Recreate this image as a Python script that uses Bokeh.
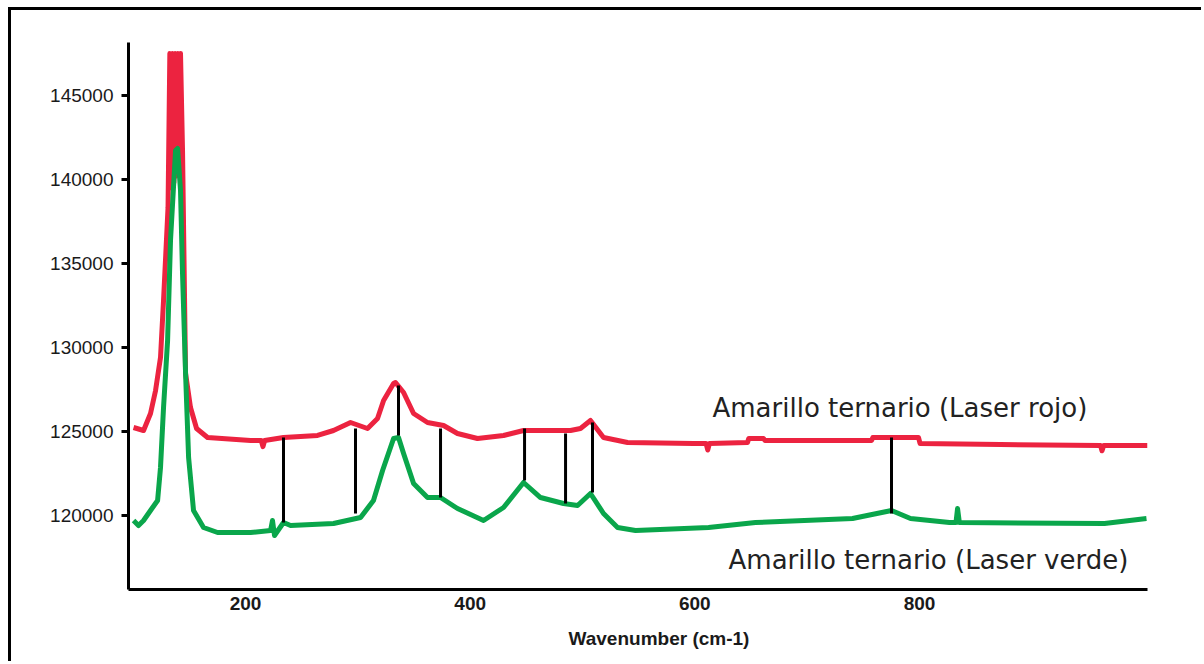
from bokeh.plotting import figure
from bokeh.models import Range1d, FixedTicker, Title, NumeralTickFormatter
from bokeh.core.properties import value
from bokeh.embed import file_html
from bokeh.resources import INLINE

# Red laser spectrum (wavenumber, intensity)
red_wn = [100.3, 109.2, 115.4, 119.9, 124.3, 127.0, 131.0, 132.6, 133.8, 135.0, 136.2, 137.4,
          138.6, 139.8, 141.0, 142.1, 143.9, 146.6,
          151.0, 156.4, 166.2, 204.5, 214.0, 215.5, 217.0, 233.8, 264.1, 278.3, 293.5, 308.6,
          317.5, 322.9, 331.8, 333.5, 340.7, 349.6, 362.0, 376.3, 388.7, 406.5, 429.7, 447.5,
          471.5, 489.3, 498.2, 507.1, 518.7, 540.1, 598.8, 610.0, 611.5, 613.0, 646.9, 648.0,
          661.1, 662.5, 757.3, 758.5, 799.1, 800.5, 872.1, 961.2, 962.5, 964.0, 1003.0]
red_int = [125238, 125059, 126071, 127440, 129404, 132797, 138332, 147500, 139500, 147500, 139800, 147500,
           140200, 147500, 140500, 147500, 141725, 128452,
           126428, 125178, 124643, 124464, 124464, 124100, 124464, 124643, 124762, 125059, 125535, 125178,
           125773, 126845, 127857, 127916, 127321, 126071, 125535, 125357, 124881, 124583, 124762, 125059,
           125059, 125059, 125178, 125654, 124643, 124345, 124286, 124286, 123900, 124286, 124345, 124583,
           124583, 124464, 124464, 124643, 124643, 124286, 124226, 124166, 123850, 124166, 124166]

# Green laser spectrum (wavenumber, intensity)
green_wn = [100.3, 104.7, 109.2, 115.4, 121.7, 124.3, 127.0, 130.6, 133.2, 137.7, 139.5, 142.1,
            143.9, 146.6, 149.3, 153.7, 162.6, 175.1, 204.5, 222.3, 224.0, 225.8, 233.8, 240.1,
            278.3, 302.4, 313.9, 322.0, 331.8, 336.2, 340.7, 349.6, 362.0, 373.6, 388.7, 411.9,
            429.7, 447.5, 462.6, 483.1, 495.6, 507.1, 518.7, 531.2, 547.2, 612.2, 654.0, 740.4,
            775.1, 792.0, 826.7, 832.5, 833.9, 835.5, 964.7, 1002.1]
green_int = [119702, 119405, 119702, 120298, 120893, 122857, 126428, 130416, 136368, 141725, 141844, 139344,
             134404, 128452, 123452, 120298, 119286, 118988, 118988, 119107, 119702, 118810, 119583, 119405,
             119524, 119881, 120893, 122678, 124583, 124643, 123690, 121905, 121071, 121071, 120417, 119702,
             120476, 121964, 121071, 120714, 120595, 121309, 120119, 119286, 119107, 119286, 119583, 119821,
             120298, 119821, 119583, 119583, 120417, 119583, 119524, 119821]

# Peak marker lines (wavenumber, top, bottom)
marker_wn = [233.8, 297.9, 336.2, 373.6, 448.4, 484.9, 508.9, 775.1]
marker_top = [124643, 125178, 127738, 125178, 125178, 124881, 125535, 124643]
marker_bottom = [119583, 120119, 124762, 121071, 122083, 120714, 121369, 120119]

y_ticks = [120000, 125000, 130000, 135000, 140000, 145000]
x_ticks = [200, 400, 600, 800]

label_texts = ["Amarillo ternario (Laser rojo)", "Amarillo ternario (Laser verde)"]
label_wn = [615.7, 630.0]
label_int = [126369, 117322]

p = figure(width=1193, height=654,
           x_range=Range1d(95.8, 1003.0), y_range=Range1d(115596, 148150),
           output_backend="svg", toolbar_location=None,
           min_border_left=117, min_border_top=32, min_border_right=57, min_border_bottom=75)
p.styles = {"margin-left": "8px", "margin-top": "7px",
            "border-top": "3px solid black", "border-left": "3px solid black"}

p.grid.visible = False
p.outline_line_color = None
p.background_fill_color = "white"

p.line(red_wn, red_int, line_color="#EC2340", line_width=5, line_join="round")
p.line(green_wn, green_int, line_color="#0AA64B", line_width=5, line_join="round")
p.segment(x0=marker_wn, y0=marker_top, x1=marker_wn, y1=marker_bottom,
          line_color="black", line_width=3)

p.text(x=label_wn, y=label_int, text=label_texts, text_font=value("DejaVu Sans"),
       text_font_size="26px", text_color="#222222", text_align="left", text_baseline="middle")

# Y axis
p.yaxis.ticker = FixedTicker(ticks=y_ticks)
p.yaxis.formatter = NumeralTickFormatter(format="0")
p.yaxis.axis_line_width = 3
p.yaxis.axis_line_color = "black"
p.yaxis.major_tick_out = 7
p.yaxis.major_tick_in = 0
p.yaxis.major_tick_line_width = 3
p.yaxis.minor_tick_line_color = None
p.yaxis.major_label_standoff = 8
p.yaxis.major_label_text_font = "Liberation Sans"
p.yaxis.major_label_text_font_size = "19px"
p.yaxis.major_label_text_color = "#1a1a1a"

# X axis
p.xaxis.ticker = FixedTicker(ticks=x_ticks)
p.xaxis.axis_line_width = 3
p.xaxis.axis_line_color = "black"
p.xaxis.major_tick_out = 0
p.xaxis.major_tick_in = 0
p.xaxis.minor_tick_line_color = None
p.xaxis.major_label_standoff = 7
p.xaxis.major_label_text_font = "Liberation Sans"
p.xaxis.major_label_text_font_style = "bold"
p.xaxis.major_label_text_font_size = "19px"
p.xaxis.major_label_text_color = "#1a1a1a"

t = Title(text="Wavenumber (cm-1)", align="left", offset=440, standoff=27,
          text_font="Liberation Sans", text_font_size="19px", text_font_style="bold",
          text_color="#1a1a1a")
p.add_layout(t, "below")

open("out.html", "w").write(file_html(p, INLINE))
